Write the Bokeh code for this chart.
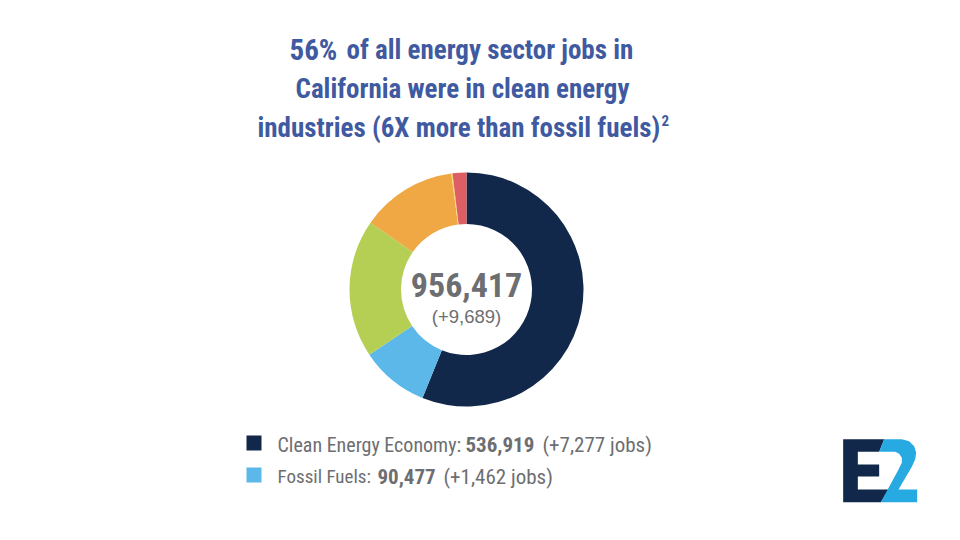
import numpy as np
from bokeh.core.properties import value
from bokeh.plotting import figure
from bokeh.embed import file_html
from bokeh.resources import INLINE

# ---- data ----
segments = ["Clean Energy Economy", "Fossil Fuels", "Other A", "Other B", "Other C", "Other D"]
values = [536919, 90477, 182500, 126700, 1500, 18321]
total_label = "956,417"
change_label = "(+9,689)"
title_bold = "56%"
title_rest = ["of all energy sector jobs in", "California were in clean energy", "industries (6X more than fossil fuels)"]
title_sup = "2"
legend_names = ["Clean Energy Economy:", "Fossil Fuels:"]
legend_counts = ["536,919", "90,477"]
legend_changes = ["(+7,277 jobs)", "(+1,462 jobs)"]

# ---- style and layout ----
colors = ["#12284B", "#5BB8E8", "#B5CF55", "#EFA843", "#F7D774", "#DE5F63"]
COND = value("Roboto Condensed")
SANS = value("Liberation Sans")
GREY = "#6D6E71"
TITLE = "#3F5AA0"

def Y(py):
    return 540 - py

def U(u):
    return 838 + u / 3

def V(v):
    return Y(434 + v / 3)

p = figure(width=944, height=524, x_range=(0, 944), y_range=(16, 540),
           output_backend="svg", toolbar_location=None, min_border=0,
           outline_line_color=None, background_fill_color="white")
p.axis.visible = False
p.grid.visible = False

# donut
vals = np.array(values, dtype=float)
cum = np.concatenate([[0], np.cumsum(vals)]) / vals.sum()
starts = np.pi / 2 - cum[:-1] * 2 * np.pi
ends = np.pi / 2 - cum[1:] * 2 * np.pi
p.annular_wedge(x=466, y=Y(289), inner_radius=65.5, outer_radius=117,
                start_angle=starts, end_angle=ends, direction="clock",
                fill_color=colors, line_color=None)

def label(txt, x, py, size, font=COND, style="normal", color=GREY, align="left"):
    p.text(x=[x], y=[Y(py)], text=[txt], text_font=font, text_font_size=f"{size}px",
           text_font_style=style, text_color=color, text_align=align, text_baseline="alphabetic")

# title
label(title_bold, 289, 49, 29, style="bold", color=TITLE)
for txt, x, py in zip(title_rest, [346, 295, 257], [49, 88, 127]):
    label(txt, x, py, 27, style="bold", color=TITLE)
label(title_sup, 661, 120, 15, style="bold", color=TITLE)

# centre
label(total_label, 466, 284, 34, style="bold", align="center")
label(change_label, 466, 316, 18.5, font=SANS, align="center")

# legend
name_sizes = [20, 19]
count_x = [465, 377]
change_x = [542, 443]
for i, py in enumerate([444, 476]):
    p.rect(x=[253.5], y=[Y(442.5 + 32 * i)], width=15, height=15, fill_color=colors[i], line_color=None)
    label(legend_names[i], 277, py, name_sizes[i])
    label(legend_counts[i], count_x[i], py, 21, style="bold")
    label(legend_changes[i], change_x[i], py, 21)

# E2 logo (decoration)
logo_e = [(14,14),(137,14),(122,52),(58,52),(58,90),(122,90),(122,126),(58,126),(58,165),(150,165),(127,203),(14,203)]
logo_2 = [(137,14),(190,14),(212,20),(227,35),(233,55),(230,75),(220,97),(180,165),(236,165),(236,203),(127,203),
          (180,105),(190,85),(190,70),(182,58),(170,52),(122,52)]
p.patch([U(a) for a, _ in logo_e], [V(b) for _, b in logo_e], fill_color="#12284B", line_color=None)
p.patch([U(a) for a, _ in logo_2], [V(b) for _, b in logo_2], fill_color="#27AAE1", line_color=None)

open("out.html", "w").write(file_html(p, INLINE))
